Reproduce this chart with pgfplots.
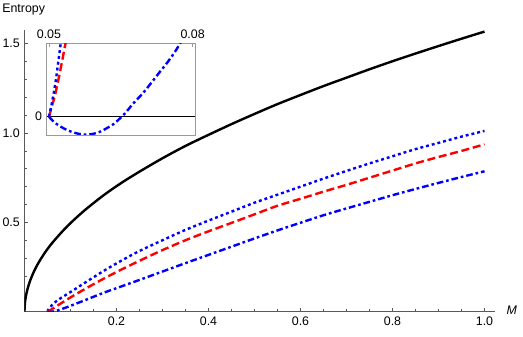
\documentclass[border=0pt]{standalone}
\usepackage{fontspec}
\setmainfont{Liberation Sans}
\usepackage{pgfplots}
\pgfplotsset{compat=1.18}
\definecolor{axgray}{gray}{0.35}
\definecolor{boxgray}{gray}{0.6}
\begin{document}
\begin{tikzpicture}
\path[use as bounding box] (0,0) rectangle (392.25pt,252pt);
\begin{axis}[
  at={(18.375pt,18.225pt)}, anchor=south west,
  scale only axis, width=352.6pt, height=211.3pt,
  xmin=0, xmax=1.022, ymin=0, ymax=1.577,
  axis x line=bottom, axis y line=left,
  axis line style={-, color=axgray, line width=0.5pt},
  every tick/.style={color=axgray, line width=0.5pt},
  xtick={0.2,0.4,0.6,0.8,1.0}, xticklabels={0.2,0.4,0.6,0.8,1.0},
  minor xtick={0.05,0.1,0.15,0.25,0.3,0.35,0.45,0.5,0.55,0.65,0.7,0.75,0.85,0.9,0.95},
  ytick={0.5,1.0,1.5}, yticklabels={0.5,1.0,1.5},
  minor ytick={0.1,0.2,0.3,0.4,0.6,0.7,0.8,0.9,1.1,1.2,1.3,1.4},
  tick align=inside, major tick length=3pt, minor tick length=1.8pt,
  tick label style={font=\fontsize{9.3}{11}\selectfont},
  /pgf/number format/assume math mode=true,
]
\addplot[black, line width=1.8pt, smooth] coordinates {
(0,0) (0.0003,0.027) (0.001,0.0496) (0.002,0.070) (0.004,0.099) (0.007,0.131)
(0.012,0.172) (0.02,0.222) (0.03,0.272) (0.045,0.333) (0.06,0.384) (0.08,0.443)
(0.1,0.496) (0.13,0.566) (0.17,0.648) (0.21,0.72) (0.25,0.784) (0.3,0.859)
(0.35,0.928) (0.4,0.99) (0.45,1.05) (0.5,1.107) (0.55,1.162) (0.6,1.213)
(0.65,1.263) (0.7,1.31) (0.75,1.357) (0.8,1.402) (0.85,1.445) (0.9,1.487)
(0.95,1.528) (1.0,1.568)};
\addplot[blue, line width=1.8pt, smooth, dash pattern=on 2.2pt off 2.2pt] coordinates {
(0.05,0) (0.052,0.012) (0.056,0.026) (0.065,0.05) (0.08,0.078) (0.1,0.11) (0.13,0.16)
(0.17,0.225) (0.21,0.285) (0.25,0.34) (0.3,0.40) (0.35,0.458) (0.4,0.51)
(0.45,0.56) (0.5,0.61) (0.55,0.655) (0.6,0.70) (0.65,0.745) (0.7,0.788)
(0.75,0.83) (0.8,0.87) (0.85,0.91) (0.9,0.945) (0.95,0.98) (1.0,1.012)};
\addplot[red, line width=1.8pt, smooth, dash pattern=on 6pt off 2.8pt] coordinates {
(0.05,0) (0.06,0.015) (0.08,0.048) (0.1,0.08) (0.13,0.125) (0.17,0.182)
(0.21,0.235) (0.25,0.285) (0.3,0.345) (0.35,0.40) (0.4,0.45) (0.45,0.497)
(0.5,0.545) (0.55,0.593) (0.6,0.632) (0.65,0.672) (0.7,0.71) (0.75,0.75)
(0.8,0.79) (0.85,0.83) (0.9,0.866) (0.95,0.90) (1.0,0.937)};
\addplot[blue, line width=1.8pt, smooth, dash pattern=on 5pt off 2.2pt on 2pt off 2.2pt] coordinates {
(0.05,0) (0.0575,-0.001) (0.065,0.002) (0.08,0.014) (0.1,0.033) (0.13,0.063)
(0.17,0.104) (0.21,0.141) (0.25,0.178) (0.3,0.225) (0.35,0.272) (0.4,0.318)
(0.45,0.364) (0.5,0.41) (0.55,0.455) (0.6,0.498) (0.65,0.54) (0.7,0.578)
(0.75,0.615) (0.8,0.652) (0.85,0.687) (0.9,0.721) (0.95,0.754) (1.0,0.786)};
\end{axis}
\begin{axis}[
  at={(35.0pt,150.75pt)}, anchor=south west,
  scale only axis, width=111.2pt, height=68.8pt,
  xmin=0.04952, xmax=0.08048, ymin=-1, ymax=4.01,
  axis line style={color=boxgray, line width=0.5pt},
  scaled x ticks=false, scaled y ticks=false,
  xtick={0.05,0.08}, xticklabels={0.05,0.08},
  xtick pos=right, xticklabel pos=right,
  ytick={0}, yticklabels={0}, ytick pos=left,
  ytick style={draw=none},
  xtick style={color=boxgray, line width=0.5pt},
  tick align=inside, major tick length=3pt,
  tick label style={font=\fontsize{9.3}{11}\selectfont},
  /pgf/number format/assume math mode=true,
]
\addplot[black, line width=0.6pt] coordinates {(0.04952,0) (0.08048,0)};
\addplot[blue, line width=1.8pt, smooth, dash pattern=on 5pt off 2.2pt on 2pt off 2.2pt] coordinates {
(0.05,0) (0.0511,-0.3) (0.0523,-0.52) (0.0537,-0.72) (0.0551,-0.86) (0.0565,-0.95)
(0.0578,-0.98) (0.059,-0.95) (0.0605,-0.84) (0.062,-0.64) (0.0635,-0.4)
(0.0648,-0.1) (0.066,0.22) (0.0676,0.72) (0.0695,1.25) (0.0711,1.76)
(0.0728,2.33) (0.0746,2.92) (0.0762,3.5) (0.0775,4.05)};
\addplot[red, line width=1.8pt, dash pattern=on 6pt off 2.8pt] coordinates {
(0.05,0) (0.0513,1.2) (0.0522,2.3) (0.0529,3.25) (0.0536,4.2)};
\addplot[blue, line width=1.8pt, dash pattern=on 2.2pt off 2.2pt] coordinates {
(0.05,0) (0.0505,0.6) (0.051,1.3) (0.0515,2.1) (0.052,3.1) (0.0525,4.1)};
\end{axis}
\node[anchor=west, inner sep=0pt, font=\fontsize{9.3}{11}\selectfont] at (1.5pt,244.5pt) {Entropy};
\node[inner sep=0pt, font=\fontsize{9.3}{11}\selectfont\itshape] at (383.8pt,19.5pt) {M};
\end{tikzpicture}
\end{document}
